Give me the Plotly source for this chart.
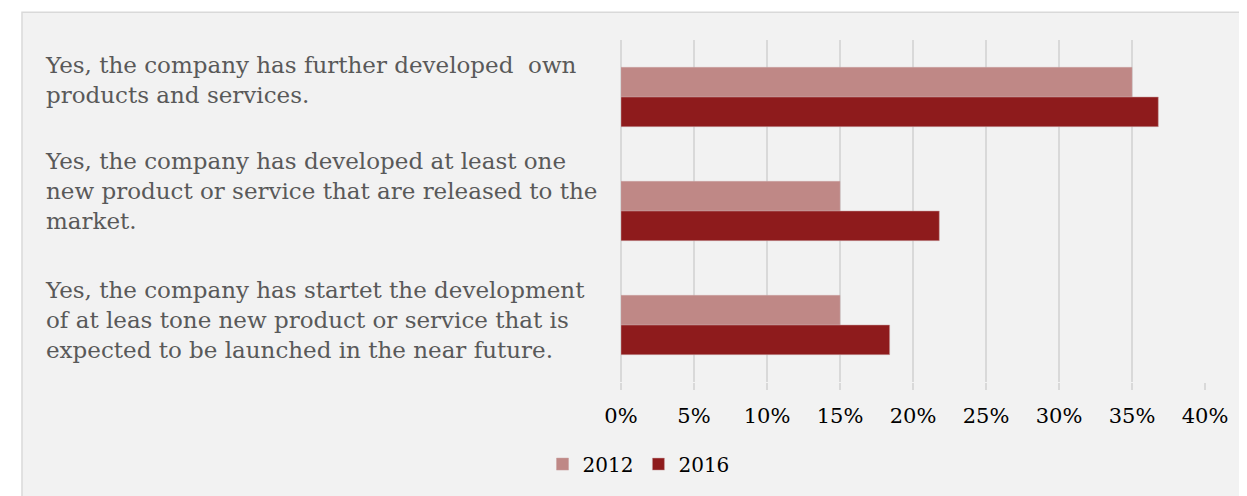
import plotly.graph_objects as go

categories = [
    "Yes, the company has further developed  own<br>products and services.",
    "Yes, the company has developed at least one<br>new product or service that are released to the<br>market.",
    "Yes, the company has startet the development<br>of at leas tone new product or service that is<br>expected to be launched in the near future.",
]
cat_keys = ["c1", "c2", "c3"]
values_2012 = [0.35, 0.15, 0.15]
values_2016 = [0.368, 0.218, 0.184]
tick_vals = [0, 0.05, 0.10, 0.15, 0.20, 0.25, 0.30, 0.35, 0.40]
tick_text = ["0%", "5%", "10%", "15%", "20%", "25%", "30%", "35%", "40%"]

FONT = "Georgia, 'DejaVu Serif', serif"

fig = go.Figure()
fig.add_trace(go.Bar(name="2012", y=cat_keys, x=values_2012, orientation="h",
                     marker=dict(color="#bf8886", line=dict(color="#c9a0a0", width=0.5))))
fig.add_trace(go.Bar(name="2016", y=cat_keys, x=values_2016, orientation="h",
                     marker=dict(color="#8e1b1c", line=dict(color="#c9a0a0", width=0.5))))

label_shift = [17, 20, 5]
for key, text, sh in zip(cat_keys, categories, label_shift):
    fig.add_annotation(x=0, xref="paper", xshift=-578, y=key, yref="y", yshift=sh,
                       text=text, showarrow=False, xanchor="left", yanchor="middle",
                       align="left", font=dict(family=FONT, size=23, color="#595959"))

fig.add_shape(type="rect", xref="paper", yref="paper", x0=-1.0257, x1=1.2, y0=-0.4, y1=1.081,
              fillcolor="#f2f2f2", line=dict(color="#d9d9d9", width=1.5), layer="below")

fig.update_layout(
    width=1239, height=488,
    margin=dict(l=613, r=42, t=32, b=111),
    paper_bgcolor="white", plot_bgcolor="rgba(0,0,0,0)",
    barmode="group", bargap=0.48, bargroupgap=0,
    font=dict(family=FONT, color="#000000"),
    showlegend=True,
    legend=dict(orientation="h", x=0.03, xanchor="center", y=-0.24, yanchor="middle",
                itemwidth=30,
                font=dict(family=FONT, size=20, color="#000000"), bgcolor="rgba(0,0,0,0)"),
    xaxis=dict(range=[0, 0.4], tickvals=tick_vals, ticktext=tick_text,
               showgrid=True, gridcolor="#d9d9d9", gridwidth=2,
               zeroline=True, zerolinecolor="#d9d9d9", zerolinewidth=2,
               ticks="outside", ticklen=7, tickcolor="#d9d9d9", tickwidth=2,
               ticklabelstandoff=8,
               tickfont=dict(family=FONT, size=21, color="#000000"), showline=False),
    yaxis=dict(categoryorder="array", categoryarray=cat_keys, autorange="reversed",
               showticklabels=False, showgrid=False, zeroline=False, ticks=""),
)

fig.write_html("out.html")
